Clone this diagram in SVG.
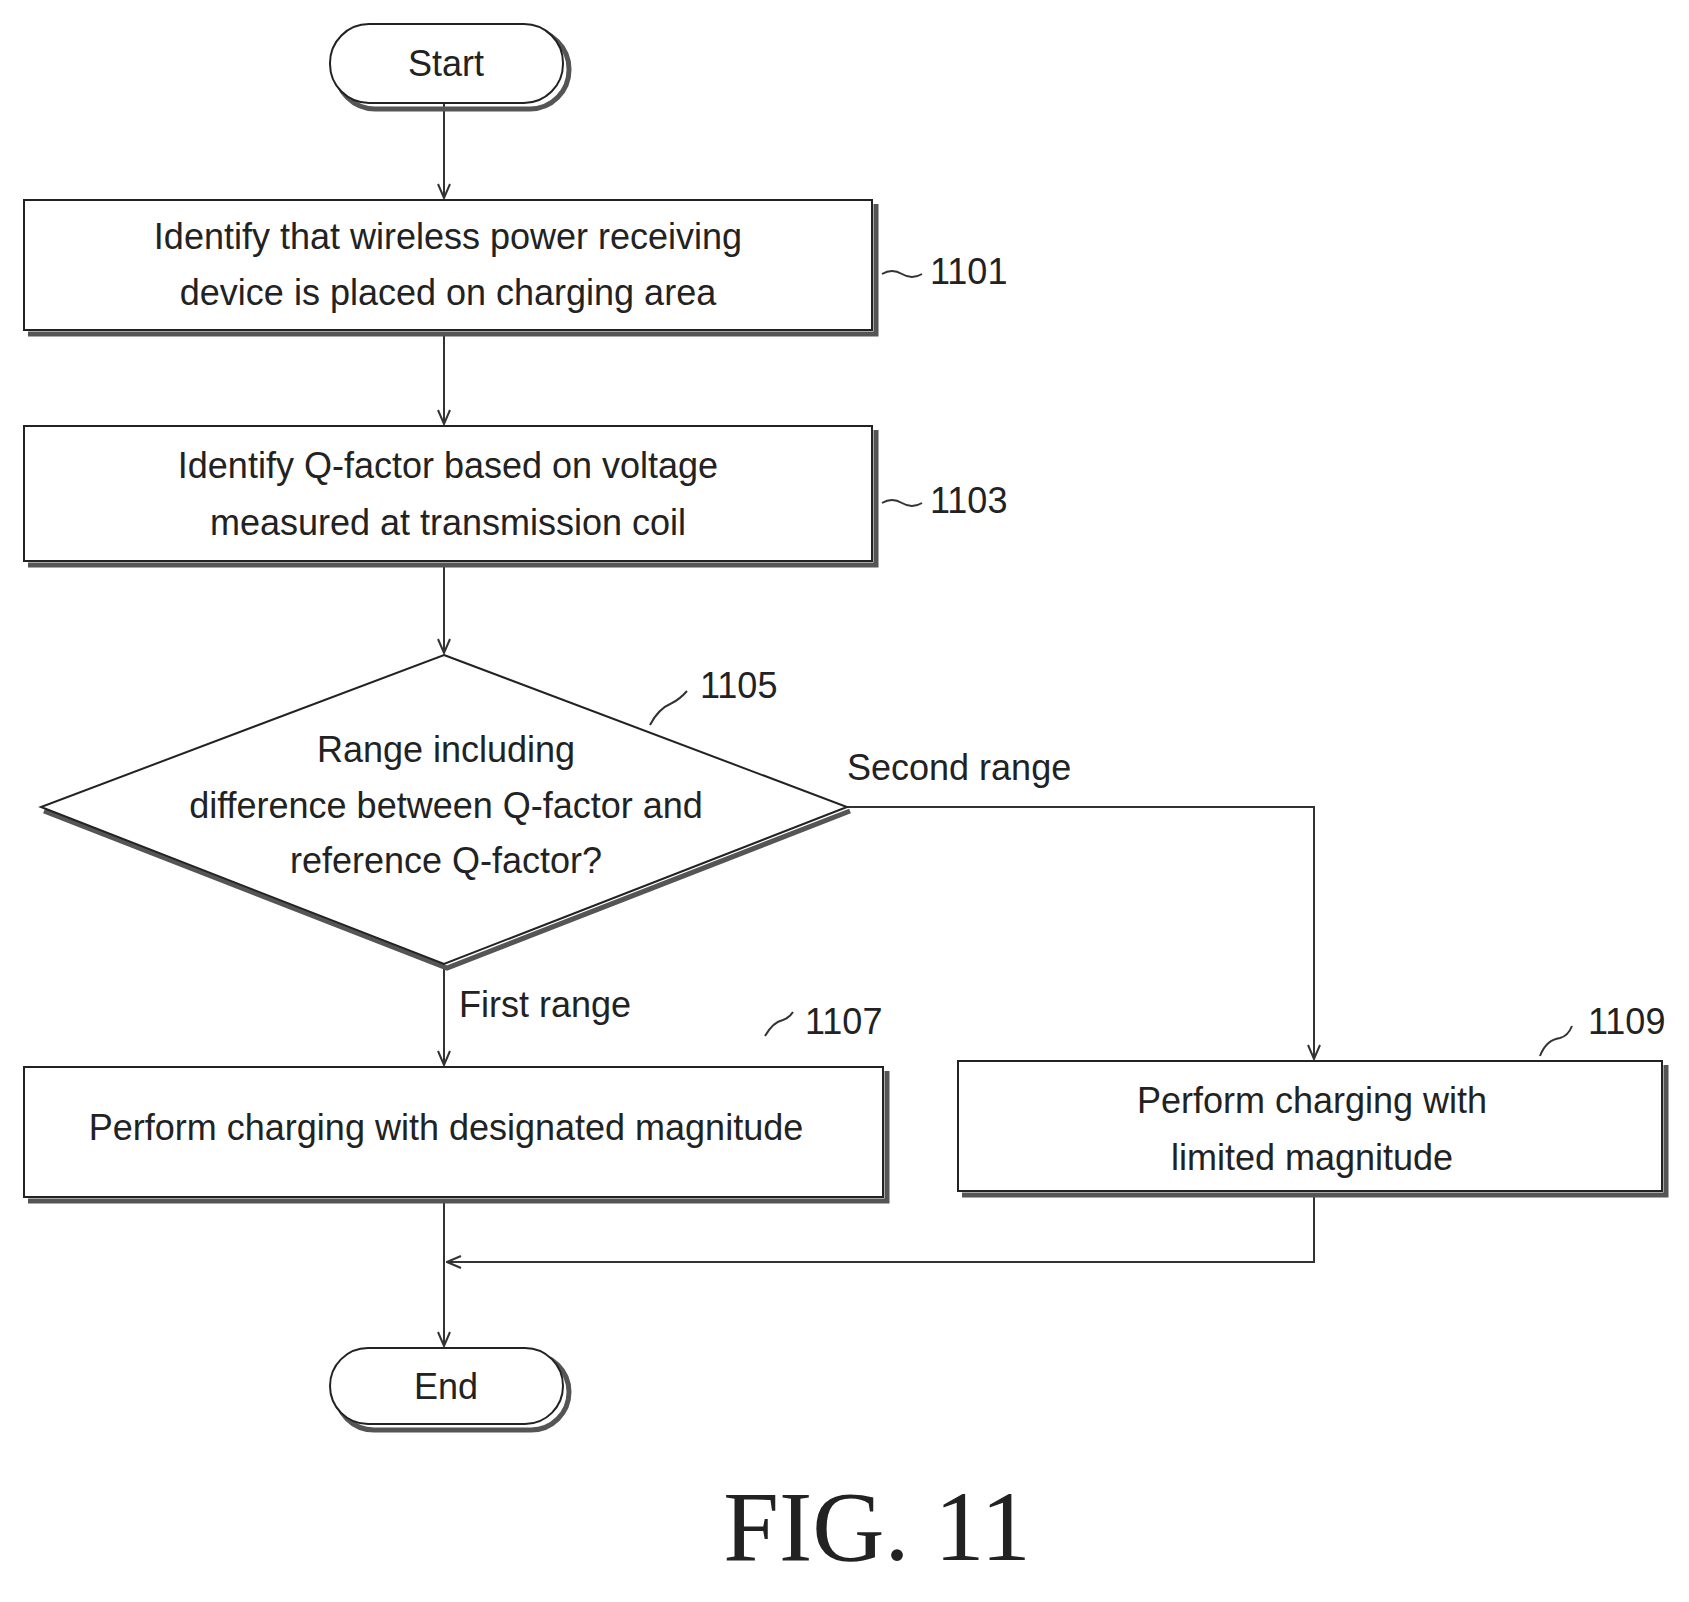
<svg xmlns="http://www.w3.org/2000/svg" width="1689" height="1602" viewBox="0 0 1689 1602">
<style>
.s{fill:#fff;stroke:#222;stroke-width:2}
.sh{fill:none;stroke:#555;stroke-width:5}
.t{font-family:"Liberation Sans",Arial,sans-serif;font-size:36px;fill:#222;text-anchor:middle}
.l{font-family:"Liberation Sans",Arial,sans-serif;font-size:36px;fill:#222}
.c{fill:none;stroke:#333;stroke-width:2}
</style>
<defs><marker id="a" markerWidth="16" markerHeight="14" refX="15" refY="7" orient="auto" markerUnits="userSpaceOnUse" viewBox="0 0 16 14"><path d="M1,1 L15,7 L1,13" fill="none" stroke="#333" stroke-width="2"/></marker></defs>
<rect width="1689" height="1602" fill="#fff"/>
<g id="connectors">
<line class="c" x1="444" y1="103" x2="444" y2="198" marker-end="url(#a)"/>
<line class="c" x1="444" y1="334" x2="444" y2="424" marker-end="url(#a)"/>
<line class="c" x1="444" y1="565" x2="444" y2="653" marker-end="url(#a)"/>
<line class="c" x1="444" y1="964" x2="444" y2="1065" marker-end="url(#a)"/>
<polyline class="c" points="847,807 1314,807 1314,1059" marker-end="url(#a)"/>
<line class="c" x1="444" y1="1200" x2="444" y2="1346" marker-end="url(#a)"/>
<polyline class="c" points="1314,1195 1314,1262 447,1262" marker-end="url(#a)"/>
<path class="c" d="M882,274 q10,-6 20,0 t20,0"/>
<path class="c" d="M882,503 q10,-6 20,0 t20,0"/>
<path class="c" d="M650,725 q8,-16 22,-22 q8,-4 15,-12"/>
<path class="c" d="M765,1036 q8,-14 18,-16 q6,-2 10,-8"/>
<path class="c" d="M1540,1056 q6,-16 20,-18 q8,-2 12,-12"/>
</g>
<g id="start"><rect x="336" y="30" width="233" height="79" rx="39" class="sh"/><rect x="330" y="24" width="233" height="79" rx="39" class="s"/><text class="t" x="446" y="76">Start</text></g>
<g id="n1101"><polyline class="sh" points="876,204 876,334 28,334"/><rect x="24" y="200" width="848" height="130" class="s"/><text class="t" x="448" y="249">Identify that wireless power receiving</text><text class="t" x="448" y="305">device is placed on charging area</text><text class="l" x="930" y="284">1101</text></g>
<g id="n1103"><polyline class="sh" points="876,430 876,565 28,565"/><rect x="24" y="426" width="848" height="135" class="s"/><text class="t" x="448" y="478">Identify Q-factor based on voltage</text><text class="t" x="448" y="535">measured at transmission coil</text><text class="l" x="930" y="513">1103</text></g>
<g id="n1105"><path class="sh" d="M44,811 L447,968 L850,811"/><polygon class="s" points="444,655 847,807 444,964 41,807"/><text class="t" x="446" y="762">Range including</text><text class="t" x="446" y="818">difference between Q-factor and</text><text class="t" x="446" y="873">reference Q-factor?</text><text class="l" x="700" y="698">1105</text></g>
<g id="n1107"><polyline class="sh" points="887,1071 887,1201 28,1201"/><rect x="24" y="1067" width="859" height="130" class="s"/><text class="t" x="446" y="1140">Perform charging with designated magnitude</text><text class="l" x="805" y="1034">1107</text></g>
<g id="n1109"><polyline class="sh" points="1666,1065 1666,1195 962,1195"/><rect x="958" y="1061" width="704" height="130" class="s"/><text class="t" x="1312" y="1113">Perform charging with</text><text class="t" x="1312" y="1170">limited magnitude</text><text class="l" x="1588" y="1034">1109</text></g>
<g id="end"><rect x="336" y="1354" width="233" height="76" rx="38" class="sh"/><rect x="330" y="1348" width="233" height="76" rx="38" class="s"/><text class="t" x="446" y="1399">End</text></g>
<text class="l" x="847" y="780">Second range</text>
<text class="l" x="459" y="1017">First range</text>
<text x="877" y="1560" font-family="'Liberation Serif','Times New Roman',serif" font-size="100" fill="#222" text-anchor="middle">FIG. 11</text>
</svg>
